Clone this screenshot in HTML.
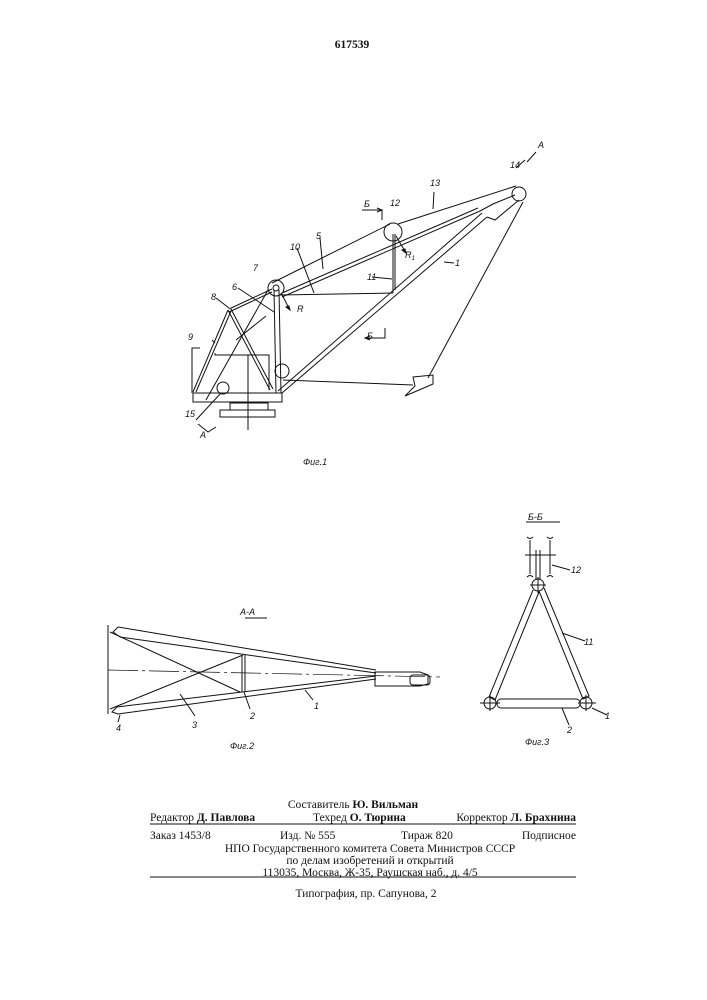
<!DOCTYPE html>
<html><head><meta charset="utf-8"><style>
html,body{margin:0;padding:0;background:#fff}
svg{display:block}
.t{font-family:"Liberation Serif","DejaVu Serif",serif;font-size:11.5px;fill:#111}
.l{font-family:"Liberation Sans",sans-serif;font-size:9px;font-style:italic;fill:#111}
</style></head><body>
<svg width="707" height="1000" viewBox="0 0 707 1000" xmlns="http://www.w3.org/2000/svg">
<g stroke="#111" fill="none" stroke-width="1">
<line x1="278" y1="391" x2="482" y2="213"/>
<line x1="282" y1="393" x2="487" y2="217"/>
<path d="M480,211 L493,204 L515,195 M487,217 L495,220 L519,200"/>
<line x1="272" y1="283" x2="390" y2="224"/>
<line x1="282" y1="297" x2="480" y2="211"/>
<line x1="282" y1="293" x2="478" y2="208"/>
<line x1="398" y1="224" x2="516" y2="186"/>
<circle cx="276" cy="288" r="8"/><circle cx="276" cy="288" r="3"/>
<circle cx="393" cy="232" r="9"/>
<circle cx="519" cy="194" r="7"/>
<circle cx="223" cy="388" r="6"/>
<circle cx="282" cy="371" r="7"/>
<line x1="274" y1="290" x2="276" y2="393"/>
<line x1="279" y1="290" x2="281" y2="393"/>
<line x1="228" y1="310" x2="193" y2="392"/>
<line x1="231" y1="311" x2="196" y2="392"/>
<line x1="228" y1="310" x2="270" y2="390"/>
<line x1="231" y1="309" x2="273" y2="389"/>
<line x1="266" y1="316" x2="236" y2="340"/>
<line x1="229" y1="309" x2="272" y2="289"/>
<line x1="229" y1="312" x2="272" y2="292"/>
<path d="M200,348 H192 V393 M215,353 V355 H269 V390"/>
<line x1="248" y1="355" x2="248" y2="430"/>
<rect x="193" y="393" width="89" height="9"/>
<rect x="230" y="403" width="38" height="7"/>
<rect x="220" y="410" width="55" height="7"/>
<line x1="268" y1="290" x2="206" y2="400"/>
<line x1="196" y1="420" x2="221" y2="393"/>
<line x1="279" y1="295" x2="393" y2="293"/>
<line x1="393" y1="234" x2="393" y2="293"/>
<line x1="395" y1="234" x2="395" y2="290"/>
<line x1="283" y1="380" x2="413" y2="385"/>
<line x1="523" y1="202" x2="428" y2="378"/>
<path d="M413,377 L433,375 L433,384 L405,396 L415,386 Z"/>
<line x1="281" y1="293" x2="290" y2="310"/>
<path d="M290,310 l-4,-3 l3,-1z" fill="#111"/>
<line x1="396" y1="236" x2="406" y2="253"/>
<path d="M406,253 l-4,-3 l3,-1z" fill="#111"/>
<path d="M362,210 H382 V220 M377,208 l5,2 l-5,2"/>
<path d="M385,328 V338 H365 M370,336 l-5,2 l5,2"/>
<path d="M198,424 L208,432 L216,427"/>
<path d="M525,160 L516,168 M527,162 L536,152"/>
<line x1="212" y1="340" x2="215" y2="343"/>
<line x1="216" y1="298" x2="229" y2="308"/>
<line x1="238" y1="288" x2="274" y2="312"/>
<line x1="372" y1="277" x2="392" y2="279"/>
<line x1="444" y1="262" x2="454" y2="263"/>
<line x1="297" y1="248" x2="314" y2="293"/>
<line x1="320" y1="238" x2="323" y2="269"/>
<line x1="434" y1="192" x2="433" y2="209"/>

<line x1="108" y1="625" x2="108" y2="714"/>
<line x1="108" y1="670" x2="440" y2="677" stroke-dasharray="30,4,3,4" stroke-width="0.7"/>
<path d="M118,627 L113,632 L120,637"/>
<line x1="118" y1="627" x2="376" y2="670"/>
<line x1="120" y1="637" x2="376" y2="673"/>
<path d="M117,707 L112,712 L118,714"/>
<line x1="117" y1="707" x2="376" y2="676"/>
<line x1="118" y1="714" x2="376" y2="679"/>
<line x1="110" y1="632" x2="240" y2="692"/>
<line x1="110" y1="709" x2="243" y2="655"/>
<line x1="242" y1="655" x2="242" y2="692"/>
<line x1="245" y1="655" x2="245" y2="692"/>
<path d="M375,672 H420 L428,675 V684 L420,686 H375 Z"/>
<rect x="410" y="675" width="20" height="10" rx="3"/>
<line x1="120" y1="715" x2="118" y2="722"/>
<line x1="180" y1="694" x2="195" y2="716"/>
<line x1="244" y1="692" x2="250" y2="709"/>
<line x1="305" y1="690" x2="313" y2="700"/>
<line x1="245" y1="618" x2="267" y2="618"/>

<line x1="526" y1="522" x2="560" y2="522"/>
<path d="M530,540 V574 M550,540 V574 M527,537 q3,3 6,0 M547,537 q3,3 6,0 M527,577 q3,-3 6,0 M547,577 q3,-3 6,0"/>
<line x1="536" y1="550" x2="536" y2="580"/><line x1="540" y1="550" x2="540" y2="580"/>
<line x1="525" y1="555" x2="556" y2="555"/>
<circle cx="538" cy="585" r="6"/>
<line x1="530" y1="585" x2="546" y2="585"/><line x1="538" y1="577" x2="538" y2="593"/>
<path d="M533,590 L489,697 L495,700 L539,592"/>
<path d="M539,591 L583,699 L589,696 L544,588"/>
<circle cx="490" cy="703" r="6"/>
<circle cx="586" cy="703" r="6"/>
<line x1="480" y1="703" x2="500" y2="703"/><line x1="490" y1="695" x2="490" y2="711"/>
<line x1="578" y1="703" x2="596" y2="703"/><line x1="586" y1="695" x2="586" y2="711"/>
<rect x="497" y="699" width="83" height="9" rx="4"/>
<line x1="552" y1="565" x2="570" y2="570"/>
<line x1="562" y1="633" x2="585" y2="641"/>
<line x1="592" y1="708" x2="607" y2="715"/>
<line x1="562" y1="708" x2="569" y2="725"/>

<line x1="150" y1="824" x2="576" y2="824"/>
<line x1="150" y1="877" x2="576" y2="877"/>
</g>

<text x="352" y="48" class="t" font-weight="bold" text-anchor="middle" font-size="12">617539</text>
<g class="l">
<text x="510" y="168">14</text><text x="430" y="186">13</text><text x="364" y="207">Б</text>
<text x="390" y="206">12</text><text x="316" y="239">5</text><text x="290" y="250">10</text>
<text x="253" y="271">7</text><text x="405" y="258">R<tspan font-size="6" dy="2">1</tspan></text>
<text x="455" y="266">1</text><text x="367" y="280">11</text><text x="232" y="290">6</text>
<text x="211" y="300">8</text><text x="297" y="312">R</text><text x="188" y="340">9</text>
<text x="367" y="339">Б</text><text x="185" y="417">15</text><text x="200" y="438">A</text>
<text x="538" y="148">A</text><text x="303" y="465">Фиг.1</text>
<text x="240" y="615">А-А</text><text x="116" y="731">4</text><text x="192" y="728">3</text>
<text x="250" y="719">2</text><text x="314" y="709">1</text><text x="230" y="749">Фиг.2</text>
<text x="528" y="520">Б-Б</text><text x="571" y="573">12</text><text x="584" y="645">11</text>
<text x="605" y="719">1</text><text x="567" y="733">2</text><text x="525" y="745">Фиг.3</text>
</g>

<g class="t">
<text x="353" y="808" text-anchor="middle">Составитель <tspan font-weight="bold">Ю. Вильман</tspan></text>
<text x="150" y="821">Редактор <tspan font-weight="bold">Д. Павлова</tspan></text>
<text x="313" y="821">Техред <tspan font-weight="bold">О. Тюрина</tspan></text>
<text x="576" y="821" text-anchor="end">Корректор <tspan font-weight="bold">Л. Брахнина</tspan></text>
<text x="150" y="839">Заказ 1453/8</text>
<text x="280" y="839">Изд. № 555</text>
<text x="401" y="839">Тираж 820</text>
<text x="576" y="839" text-anchor="end">Подписное</text>
<text x="370" y="852" text-anchor="middle">НПО Государственного комитета Совета Министров СССР</text>
<text x="370" y="864" text-anchor="middle">по делам изобретений и открытий</text>
<text x="370" y="876" text-anchor="middle">113035, Москва, Ж-35, Раушская наб., д. 4/5</text>
<text x="366" y="897" text-anchor="middle">Типография, пр. Сапунова, 2</text>
</g>
</svg>
</body></html>
